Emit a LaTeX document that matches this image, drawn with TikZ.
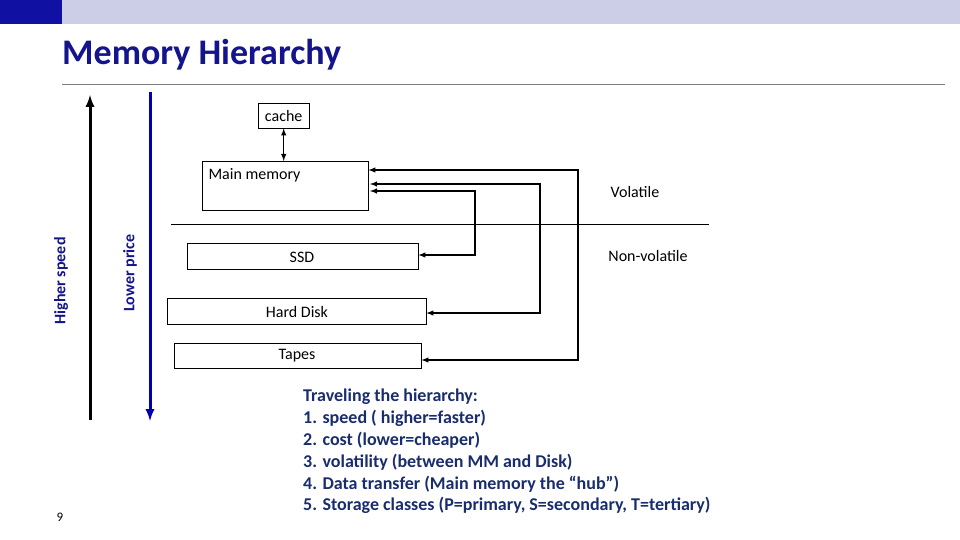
\documentclass[tikz,border=0pt]{standalone}
\usepackage{fontspec}
\setmainfont{Carlito}
\usetikzlibrary{positioning}
\definecolor{band}{RGB}{204,206,232}
\definecolor{titleblue}{RGB}{20,20,140}
\definecolor{textblue}{RGB}{25,45,110}
\tikzset{
  level/.style={draw=black,rectangle,inner sep=0pt,anchor=north west},
  lbl/.style={font=\fontsize{16}{18}\selectfont},
  link/.style={line width=1.4pt,-latex},
  axis/.style={line width=3pt,-latex}
}
\begin{document}
\begin{tikzpicture}[x=1pt,y=-1pt]
        \useasboundingbox (0,0) rectangle (960,540);
        \fill[band] (0,0) rectangle (960,24);
        \fill[titleblue!80!blue] (0,0) rectangle (62,24);
        \node[anchor=west,inner sep=0pt,text=titleblue,font=\fontsize{36}{40}\selectfont\bfseries] (title) at (62,55) {Memory Hierarchy};
        \draw[gray] (62,84) -- (945,84);

        \node[level,minimum width=51pt,minimum height=25pt] (cache) at (258,103) {};
        \node[lbl] at (cache.center) {cache};
        \node[level,minimum width=166pt,minimum height=49pt] (main) at (202,161) {};
        \node[lbl,anchor=west] at (205,175) {Main memory};
        \node[level,minimum width=231pt,minimum height=26pt] (ssd) at (187,243) {};
        \node[lbl] at (302,257) {SSD};
        \node[level,minimum width=259pt,minimum height=26pt] (hdd) at (167,298) {};
        \node[lbl] at (297,312) {Hard Disk};
        \node[level,minimum width=247pt,minimum height=25pt] (tape) at (174,343) {};
        \node[lbl] at (297,356) {Tapes};

        \draw[link,latex-latex] (cache.south) -- (main.north -| cache.south);
        \coordinate (t1) at (578,170);
        \coordinate (h1) at (540,184);
        \coordinate (s1) at (475,191);
        \draw[link,latex-latex] (main.east |- t1) -- (t1) |- (tape.east |- 0,360);
        \draw[link,latex-latex] (370,184) -- (h1) |- (hdd.east |- 0,313);
        \draw[link,latex-latex] (370,191) -- (s1) |- (ssd.east |- 0,255);
        \draw (171,224) -- (709,224);
        \node[lbl] (vol) at (635,192) {Volatile};
        \node[lbl] (nonvol) at (648,256) {Non-volatile};

        \coordinate (speedlo) at (90,420);
        \coordinate (speedhi) at (90,95);
        \draw[axis] (speedlo) -- (speedhi);
        \coordinate (pricehi) at (150,92);
        \coordinate (pricelo) at (150,421);
        \draw[axis,blue!70!black] (pricehi) -- (pricelo);
        \node[rotate=90,lbl,font=\fontsize{16}{18}\selectfont\bfseries,text=titleblue] (speed) at (61,281) {Higher speed};
        \node[rotate=90,lbl,font=\fontsize{16}{18}\selectfont\bfseries,text=titleblue] (price) at (130,273) {Lower price};

        \node[anchor=north west,align=left,text=textblue,inner sep=0pt,font=\fontsize{18}{21.8}\selectfont\bfseries] (notes) at (303,389)
          {Traveling the hierarchy:\\1. speed ( higher=faster)\\2. cost (lower=cheaper)\\3. volatility (between MM and Disk)\\4. Data transfer (Main memory the “hub”)\\5. Storage classes (P=primary, S=secondary, T=tertiary)};
        \node[font=\fontsize{13}{15}\selectfont] (page) at (60,517) {9};
    \end{tikzpicture}
\end{document}
